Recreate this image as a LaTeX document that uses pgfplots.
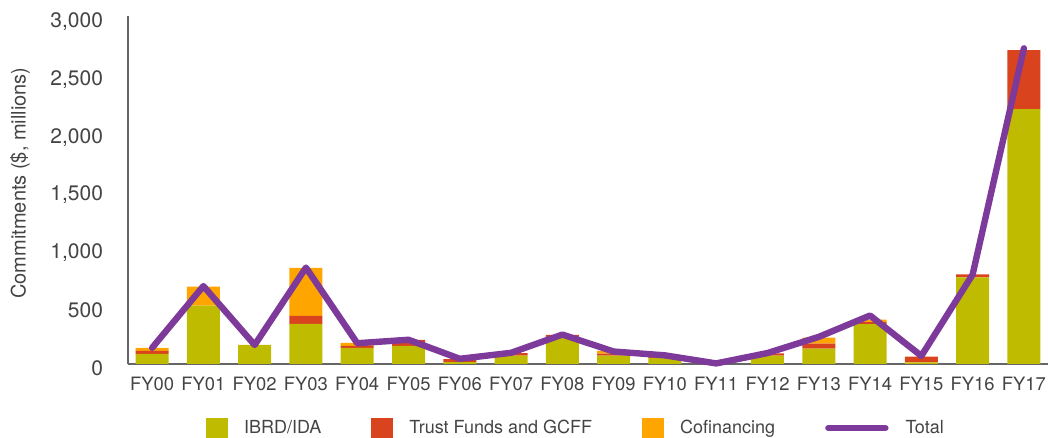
\documentclass[border=0pt]{standalone}
\usepackage{pgfplots}
\pgfplotsset{compat=1.18}
\usepackage{pgfplotstable}
\usepackage{fontspec}
\setmainfont{TeX Gyre Heros}
\usetikzlibrary{calc}

\definecolor{ibrd}{HTML}{BFBB00}
\definecolor{trust}{HTML}{D9441E}
\definecolor{cofin}{HTML}{FEA500}
\definecolor{totalc}{HTML}{7E3A9A}
\definecolor{txt}{HTML}{444444}
\definecolor{axisgray}{HTML}{666666}

% Commitments by fiscal year ($ millions)
\pgfplotstableread{
idx ibrd trust cofin total
0   87   26  26   140
1   505  0   165  675
2   165  0   0    165
3   347  69  417  835
4   140  16  26   180
5   156  52  0    210
6   17   26  0    45
7   72   23  0    97
8   228  24  0    255
9   72   17  24   108
10  52   8   8    75
11  0    0   0    5
12  72   21  0    95
13  133  43  52   235
14  345  17  23   420
15  14   49  0    70
16  750  27  0    775
17  2208 512 0    2735
}\commit

\pgfplotsset{
  commonaxis/.style={
    scale only axis, width=460pt, height=174pt,
    xmin=-0.47, xmax=17.47, ymin=0, ymax=3015,
  },
  sqlegend/.style={
    legend image code/.code={
      \fill (0pt,-5pt) rectangle (11pt,5pt);
      \path (17pt,0pt);
    }
  },
}

\begin{document}
\begin{tikzpicture}
\begin{axis}[commonaxis, name=main,
  ybar stacked, bar width=16.5pt,
  axis x line*=bottom, axis y line*=left,
  axis line style={draw=axisgray, line width=0.75pt},
  major tick length=0pt,
  xtick=data,
  xticklabels={FY00,FY01,FY02,FY03,FY04,FY05,FY06,FY07,FY08,FY09,FY10,FY11,FY12,FY13,FY14,FY15,FY16,FY17},
  ytick={0,500,...,3000},
  /pgf/number format/assume math mode=true,
  /pgf/number format/1000 sep={,},
  yticklabel style={font=\fontsize{10.5}{12}\selectfont, text=txt, xshift=-9pt, yshift=-2pt},
  xticklabel style={font=\fontsize{9.2}{11}\selectfont, text=txt, yshift=-3pt},
  ylabel={Commitments (\$, millions)},
  ylabel style={font=\fontsize{10}{12}\selectfont, text=txt,
    at={(axis description cs:-0.1174,0.52)}, anchor=center},
  legend columns=4,
  legend style={draw=none, fill=none, at={(0.488,-0.184)}, anchor=center,
    font=\fontsize{9}{11}\selectfont, text=txt,
    /tikz/every even column/.append style={column sep=23pt}},
]
\addplot[fill=ibrd, draw=none, sqlegend] table[x=idx, y=ibrd] {\commit};
\addlegendentry{IBRD/IDA}
\addplot[fill=trust, draw=none, sqlegend] table[x=idx, y=trust] {\commit};
\addlegendentry{Trust Funds and GCFF}
\addplot[fill=cofin, draw=none, sqlegend] table[x=idx, y=cofin] {\commit};
\addlegendentry{Cofinancing}
\addlegendimage{totalc, line width=3.2pt,
  legend image code/.code={\draw[line cap=round] (0pt,0pt) -- (28.5pt,0pt); \path (35pt,0pt);}}
\addlegendentry{Total}
\end{axis}

% Total commitments, drawn over the stacked bars
\begin{axis}[commonaxis, hide axis, clip=false]
\addplot[totalc, line width=3.2pt, line join=round, line cap=round]
  table[x=idx, y=total] {\commit};
\end{axis}

\pgfresetboundingbox
\path ($(main.south west)+(-64pt,-37pt)$) rectangle ($(main.north east)+(0pt,8pt)$);
\end{tikzpicture}
\end{document}
